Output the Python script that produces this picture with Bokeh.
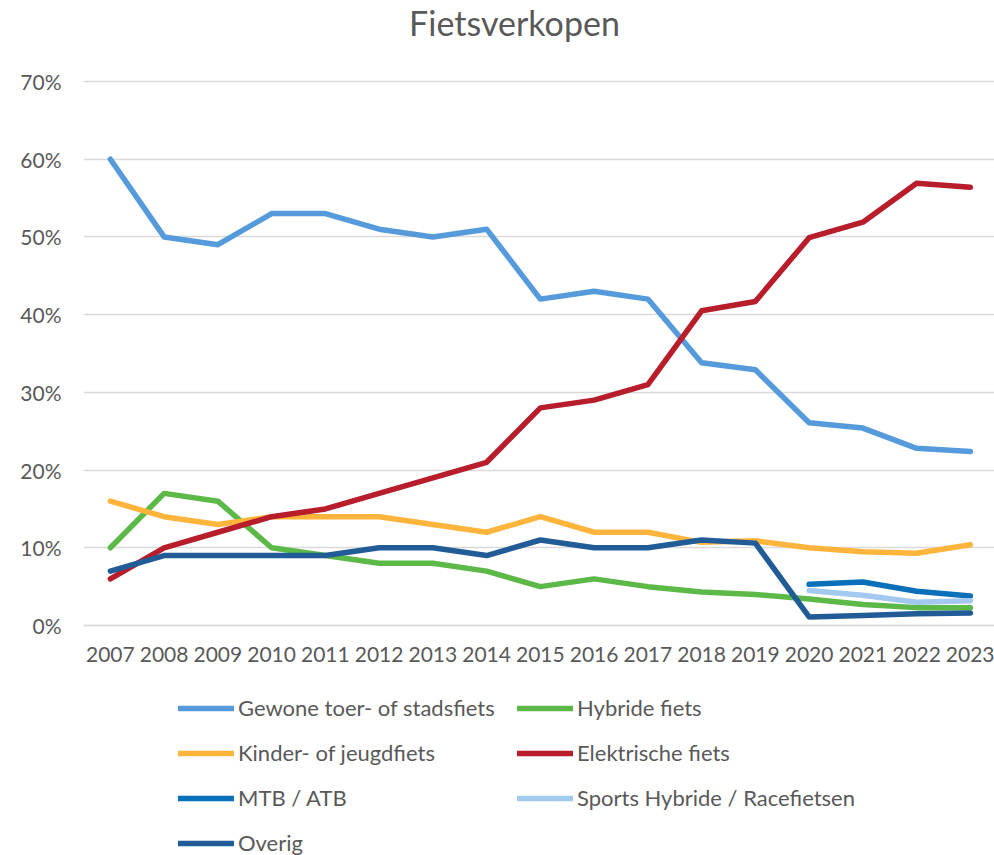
from bokeh.plotting import figure
from bokeh.models import (Range1d, FixedTicker, PrintfTickFormatter, Legend, LegendItem, Label)
from bokeh.embed import file_html
from bokeh.resources import INLINE

nan = float("nan")
years = list(range(2007, 2024))
gewone = [60, 50, 49, 53, 53, 51, 50, 51, 42, 43, 42, 33.8, 32.9, 26.1, 25.4, 22.8, 22.4]
hybride = [10, 17, 16, 10, 9, 8, 8, 7, 5, 6, 5, 4.3, 4.0, 3.4, 2.7, 2.3, 2.3]
kinder = [16, 14, 13, 14, 14, 14, 13, 12, 14, 12, 12, 10.7, 10.9, 10.0, 9.5, 9.3, 10.4]
elektrisch = [6, 10, 12, 14, 15, 17, 19, 21, 28, 29, 31, 40.5, 41.7, 49.9, 51.9, 56.9, 56.4]
mtb = [nan] * 13 + [5.3, 5.6, 4.4, 3.8]
sports = [nan] * 13 + [4.5, 3.9, 3.0, 3.2]
overig = [7, 9, 9, 9, 9, 10, 10, 9, 11, 10, 10, 11, 10.6, 1.1, 1.3, 1.5, 1.6]
y_ticks = [0, 10, 20, 30, 40, 50, 60, 70]

names = ["Gewone toer- of stadsfiets", "Hybride fiets", "Kinder- of jeugdfiets",
         "Elektrische fiets", "MTB / ATB", "Sports Hybride / Racefietsen", "Overig"]
series = [gewone, hybride, kinder, elektrisch, mtb, sports, overig]
colors = ["#559BDC", "#5CB947", "#FFB43C", "#B81D2B", "#0B70BA", "#A3C9EF", "#215C97"]

FONT = "Lato"
TXT = "#595959"

W, H = 994, 855
LEFT = 83
TOP_Y, ZERO_Y = 81, 625            # pixel rows of the 70% and 0% lines
px_per_unit = (ZERO_Y - TOP_Y) / 70.0
y_end = 70 + TOP_Y / px_per_unit
y_start = -(H - ZERO_Y) / px_per_unit

p = figure(width=W, height=H, output_backend="svg", toolbar_location=None,
           x_range=Range1d(2006.5, 2006.5 + (W - LEFT) / 53.75),
           y_range=Range1d(y_start, y_end),
           min_border_left=LEFT, min_border_right=0, min_border_top=0, min_border_bottom=0)
p.outline_line_color = None

title = Label(x=514 - LEFT, y=H - 22, x_units="screen", y_units="screen",
              text="Fietsverkopen", text_align="center", text_baseline="alphabetic",
              text_font=FONT, text_font_size="34px", text_color=TXT)
p.add_layout(title)

renderers = []
for vals, col in zip(series, colors):
    r = p.line(years, vals, line_color=col, line_width=5.5, line_cap="round", line_join="round")
    renderers.append(r)

# legend fills column-major; reorder so rows read as in the reference
order = [0, 2, 4, 6, 1, 3, 5]
items = [LegendItem(label=names[i], renderers=[renderers[i]]) for i in order]

p.xaxis.fixed_location = 0
p.xaxis.ticker = FixedTicker(ticks=years)
p.yaxis.ticker = FixedTicker(ticks=y_ticks)
p.yaxis.formatter = PrintfTickFormatter(format="%d%%")
for ax in (p.xaxis[0], p.yaxis[0]):
    ax.major_tick_line_color = None
    ax.minor_tick_line_color = None
    ax.major_label_text_font = FONT
    ax.major_label_text_font_size = "21px"
    ax.major_label_text_color = TXT
p.yaxis.axis_line_color = None
p.xaxis.axis_line_color = "#D9D9D9"
p.xaxis.axis_line_width = 1.5
p.yaxis.major_label_standoff = 16
p.xaxis.major_label_standoff = 15
p.xgrid.grid_line_color = None
p.ygrid.grid_line_color = "#D9D9D9"
p.ygrid.grid_line_width = 1.5

legend = Legend(items=items, ncols=2, location=(178 - LEFT, -1), padding=0, margin=0,
                border_line_color=None, background_fill_alpha=0,
                glyph_width=56, glyph_height=20, label_height=20, label_width=261,
                label_standoff=4, spacing=18,
                label_text_font=FONT, label_text_font_size="22px", label_text_color=TXT)
p.add_layout(legend, "center")

open("out.html", "w").write(file_html(p, INLINE))
